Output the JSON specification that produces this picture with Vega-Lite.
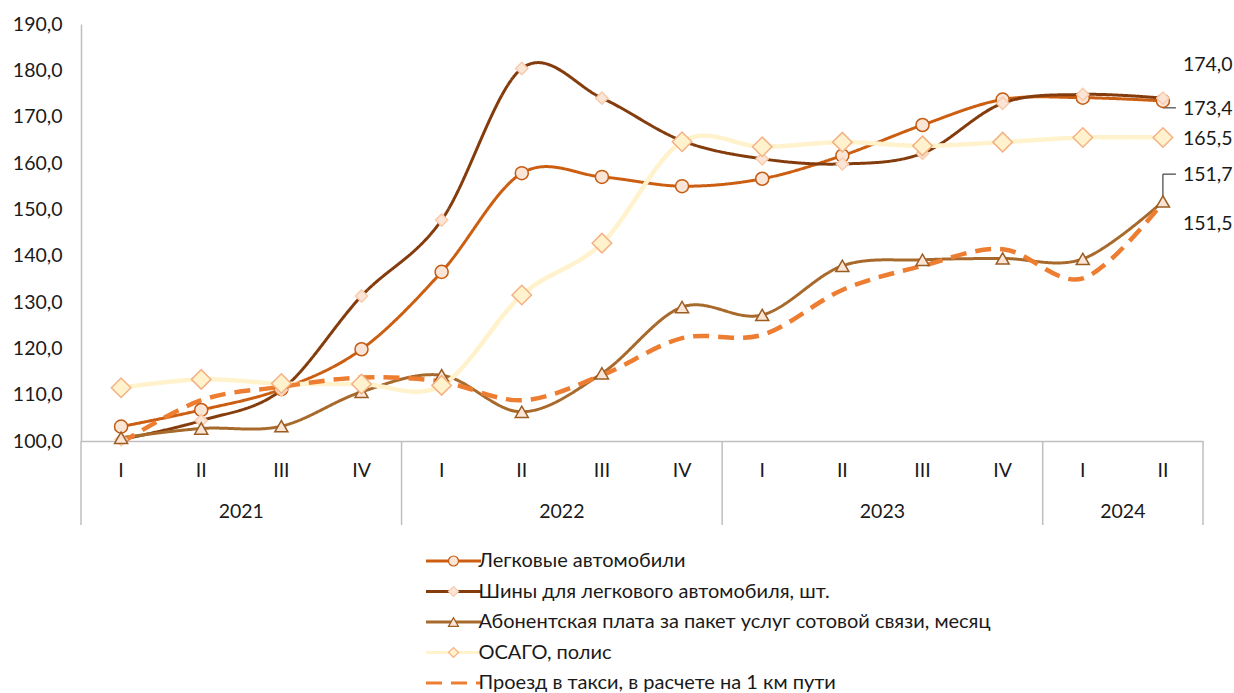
{
  "$schema": "https://vega.github.io/schema/vega-lite/v6.json",
  "width": 1122,
  "height": 417,
  "autosize": {"type": "none"},
  "padding": {"left": 81, "top": 24, "right": 31, "bottom": 252},
  "background": "white",
  "config": {
    "locale": {"number": {"decimal": ",", "thousands": " ", "grouping": [3], "currency": ["", ""]}},
    "view": {"stroke": null},
    "font": "Lato",
    "axis": {"labelFont": "Lato", "labelColor": "#1a1a1a", "labelFontSize": 19.5, "domainColor": "#BFBFBF", "domainWidth": 1.5, "ticks": false, "grid": false, "title": null},
    "legend": {"labelFont": "Lato", "labelColor": "#1a1a1a", "labelFontSize": 20, "labelLimit": 0, "title": null}
  },
  "data": {"values": [
    {"series": "Легковые автомобили", "year": 2021, "q": "I", "key": "2021-I", "value": 103.1},
    {"series": "Легковые автомобили", "year": 2021, "q": "II", "key": "2021-II", "value": 106.7},
    {"series": "Легковые автомобили", "year": 2021, "q": "III", "key": "2021-III", "value": 111.2},
    {"series": "Легковые автомобили", "year": 2021, "q": "IV", "key": "2021-IV", "value": 119.8},
    {"series": "Легковые автомобили", "year": 2022, "q": "I", "key": "2022-I", "value": 136.5},
    {"series": "Легковые автомобили", "year": 2022, "q": "II", "key": "2022-II", "value": 157.8},
    {"series": "Легковые автомобили", "year": 2022, "q": "III", "key": "2022-III", "value": 157.0},
    {"series": "Легковые автомобили", "year": 2022, "q": "IV", "key": "2022-IV", "value": 155.0},
    {"series": "Легковые автомобили", "year": 2023, "q": "I", "key": "2023-I", "value": 156.6},
    {"series": "Легковые автомобили", "year": 2023, "q": "II", "key": "2023-II", "value": 161.6},
    {"series": "Легковые автомобили", "year": 2023, "q": "III", "key": "2023-III", "value": 168.2},
    {"series": "Легковые автомобили", "year": 2023, "q": "IV", "key": "2023-IV", "value": 173.7},
    {"series": "Легковые автомобили", "year": 2024, "q": "I", "key": "2024-I", "value": 174.1},
    {"series": "Легковые автомобили", "year": 2024, "q": "II", "key": "2024-II", "value": 173.4},

    {"series": "Шины для легкового автомобиля, шт.", "year": 2021, "q": "I", "key": "2021-I", "value": 100.3},
    {"series": "Шины для легкового автомобиля, шт.", "year": 2021, "q": "II", "key": "2021-II", "value": 104.4},
    {"series": "Шины для легкового автомобиля, шт.", "year": 2021, "q": "III", "key": "2021-III", "value": 111.0},
    {"series": "Шины для легкового автомобиля, шт.", "year": 2021, "q": "IV", "key": "2021-IV", "value": 131.3},
    {"series": "Шины для легкового автомобиля, шт.", "year": 2022, "q": "I", "key": "2022-I", "value": 147.7},
    {"series": "Шины для легкового автомобиля, шт.", "year": 2022, "q": "II", "key": "2022-II", "value": 180.4},
    {"series": "Шины для легкового автомобиля, шт.", "year": 2022, "q": "III", "key": "2022-III", "value": 174.0},
    {"series": "Шины для легкового автомобиля, шт.", "year": 2022, "q": "IV", "key": "2022-IV", "value": 164.8},
    {"series": "Шины для легкового автомобиля, шт.", "year": 2023, "q": "I", "key": "2023-I", "value": 160.9},
    {"series": "Шины для легкового автомобиля, шт.", "year": 2023, "q": "II", "key": "2023-II", "value": 159.8},
    {"series": "Шины для легкового автомобиля, шт.", "year": 2023, "q": "III", "key": "2023-III", "value": 162.1},
    {"series": "Шины для легкового автомобиля, шт.", "year": 2023, "q": "IV", "key": "2023-IV", "value": 172.9},
    {"series": "Шины для легкового автомобиля, шт.", "year": 2024, "q": "I", "key": "2024-I", "value": 174.8},
    {"series": "Шины для легкового автомобиля, шт.", "year": 2024, "q": "II", "key": "2024-II", "value": 174.0},

    {"series": "Абонентская плата за пакет услуг сотовой связи, месяц", "year": 2021, "q": "I", "key": "2021-I", "value": 100.7},
    {"series": "Абонентская плата за пакет услуг сотовой связи, месяц", "year": 2021, "q": "II", "key": "2021-II", "value": 102.7},
    {"series": "Абонентская плата за пакет услуг сотовой связи, месяц", "year": 2021, "q": "III", "key": "2021-III", "value": 103.2},
    {"series": "Абонентская плата за пакет услуг сотовой связи, месяц", "year": 2021, "q": "IV", "key": "2021-IV", "value": 110.6},
    {"series": "Абонентская плата за пакет услуг сотовой связи, месяц", "year": 2022, "q": "I", "key": "2022-I", "value": 114.2},
    {"series": "Абонентская плата за пакет услуг сотовой связи, месяц", "year": 2022, "q": "II", "key": "2022-II", "value": 106.3},
    {"series": "Абонентская плата за пакет услуг сотовой связи, месяц", "year": 2022, "q": "III", "key": "2022-III", "value": 114.6},
    {"series": "Абонентская плата за пакет услуг сотовой связи, месяц", "year": 2022, "q": "IV", "key": "2022-IV", "value": 128.9},
    {"series": "Абонентская плата за пакет услуг сотовой связи, месяц", "year": 2023, "q": "I", "key": "2023-I", "value": 127.2},
    {"series": "Абонентская плата за пакет услуг сотовой связи, месяц", "year": 2023, "q": "II", "key": "2023-II", "value": 137.8},
    {"series": "Абонентская плата за пакет услуг сотовой связи, месяц", "year": 2023, "q": "III", "key": "2023-III", "value": 139.1},
    {"series": "Абонентская плата за пакет услуг сотовой связи, месяц", "year": 2023, "q": "IV", "key": "2023-IV", "value": 139.4},
    {"series": "Абонентская плата за пакет услуг сотовой связи, месяц", "year": 2024, "q": "I", "key": "2024-I", "value": 139.3},
    {"series": "Абонентская плата за пакет услуг сотовой связи, месяц", "year": 2024, "q": "II", "key": "2024-II", "value": 151.7},

    {"series": "ОСАГО, полис", "year": 2021, "q": "I", "key": "2021-I", "value": 111.5},
    {"series": "ОСАГО, полис", "year": 2021, "q": "II", "key": "2021-II", "value": 113.3},
    {"series": "ОСАГО, полис", "year": 2021, "q": "III", "key": "2021-III", "value": 112.4},
    {"series": "ОСАГО, полис", "year": 2021, "q": "IV", "key": "2021-IV", "value": 112.3},
    {"series": "ОСАГО, полис", "year": 2022, "q": "I", "key": "2022-I", "value": 112.0},
    {"series": "ОСАГО, полис", "year": 2022, "q": "II", "key": "2022-II", "value": 131.5},
    {"series": "ОСАГО, полис", "year": 2022, "q": "III", "key": "2022-III", "value": 142.7},
    {"series": "ОСАГО, полис", "year": 2022, "q": "IV", "key": "2022-IV", "value": 164.6},
    {"series": "ОСАГО, полис", "year": 2023, "q": "I", "key": "2023-I", "value": 163.5},
    {"series": "ОСАГО, полис", "year": 2023, "q": "II", "key": "2023-II", "value": 164.5},
    {"series": "ОСАГО, полис", "year": 2023, "q": "III", "key": "2023-III", "value": 163.7},
    {"series": "ОСАГО, полис", "year": 2023, "q": "IV", "key": "2023-IV", "value": 164.5},
    {"series": "ОСАГО, полис", "year": 2024, "q": "I", "key": "2024-I", "value": 165.5},
    {"series": "ОСАГО, полис", "year": 2024, "q": "II", "key": "2024-II", "value": 165.5},

    {"series": "Проезд в такси, в расчете на 1 км пути", "year": 2021, "q": "I", "key": "2021-I", "value": 99.6},
    {"series": "Проезд в такси, в расчете на 1 км пути", "year": 2021, "q": "II", "key": "2021-II", "value": 108.8},
    {"series": "Проезд в такси, в расчете на 1 км пути", "year": 2021, "q": "III", "key": "2021-III", "value": 111.7},
    {"series": "Проезд в такси, в расчете на 1 км пути", "year": 2021, "q": "IV", "key": "2021-IV", "value": 113.7},
    {"series": "Проезд в такси, в расчете на 1 км пути", "year": 2022, "q": "I", "key": "2022-I", "value": 112.8},
    {"series": "Проезд в такси, в расчете на 1 км пути", "year": 2022, "q": "II", "key": "2022-II", "value": 108.8},
    {"series": "Проезд в такси, в расчете на 1 км пути", "year": 2022, "q": "III", "key": "2022-III", "value": 114.2},
    {"series": "Проезд в такси, в расчете на 1 км пути", "year": 2022, "q": "IV", "key": "2022-IV", "value": 122.2},
    {"series": "Проезд в такси, в расчете на 1 км пути", "year": 2023, "q": "I", "key": "2023-I", "value": 122.9},
    {"series": "Проезд в такси, в расчете на 1 км пути", "year": 2023, "q": "II", "key": "2023-II", "value": 132.6},
    {"series": "Проезд в такси, в расчете на 1 км пути", "year": 2023, "q": "III", "key": "2023-III", "value": 137.8},
    {"series": "Проезд в такси, в расчете на 1 км пути", "year": 2023, "q": "IV", "key": "2023-IV", "value": 141.4},
    {"series": "Проезд в такси, в расчете на 1 км пути", "year": 2024, "q": "I", "key": "2024-I", "value": 135.1},
    {"series": "Проезд в такси, в расчете на 1 км пути", "year": 2024, "q": "II", "key": "2024-II", "value": 151.5}
  ]},
  "layer": [
    {
      "transform": [{"filter": "datum.series === 'Легковые автомобили' && datum.q === 'I'"}],
      "mark": {"type": "rule", "color": "#BFBFBF", "strokeWidth": 1.5, "y2Offset": 84},
      "encoding": {
        "x": {"field": "key", "type": "ordinal", "bandPosition": 0,
          "scale": {"type": "band", "paddingInner": 0, "paddingOuter": 0,
            "domain": ["2021-I","2021-II","2021-III","2021-IV","2022-I","2022-II","2022-III","2022-IV","2023-I","2023-II","2023-III","2023-IV","2024-I","2024-II"]},
          "axis": {"orient": "bottom", "labelAngle": 0, "labelBaseline": "middle", "labelPadding": 29, "labelExpr": "split(datum.value, '-')[1]"}},
        "y": {"datum": 100, "type": "quantitative",
          "scale": {"domain": [100, 190], "nice": false, "zero": false},
          "axis": {"values": [100,110,120,130,140,150,160,170,180,190], "format": ".1f", "labelPadding": 19}},
        "y2": {"datum": 100}
      }
    },
    {
      "transform": [{"filter": "datum.series === 'Легковые автомобили' && datum.key === '2024-II'"}],
      "mark": {"type": "rule", "color": "#BFBFBF", "strokeWidth": 1.5, "y2Offset": 84},
      "encoding": {
        "x": {"field": "key", "type": "ordinal", "bandPosition": 1},
        "y": {"datum": 100, "type": "quantitative"},
        "y2": {"datum": 100}
      }
    },
    {
      "transform": [{"filter": "datum.key === '2024-II' && datum.series === 'Абонентская плата за пакет услуг сотовой связи, месяц'"}],
      "mark": {"type": "rule", "color": "#1a1a1a", "strokeWidth": 1},
      "encoding": {
        "x": {"field": "key", "type": "ordinal", "bandPosition": 0.5},
        "y": {"field": "value", "type": "quantitative"},
        "y2": {"datum": 157.6}
      }
    },
    {
      "transform": [{"filter": "datum.key === '2024-II' && datum.series === 'Абонентская плата за пакет услуг сотовой связи, месяц'"}],
      "mark": {"type": "rule", "color": "#1a1a1a", "strokeWidth": 1, "x2Offset": 13},
      "encoding": {
        "x": {"field": "key", "type": "ordinal", "bandPosition": 0.5},
        "x2": {"field": "key", "bandPosition": 0.5},
        "y": {"datum": 157.6, "type": "quantitative"}
      }
    },
    {
      "transform": [{"filter": "datum.key === '2024-II' && datum.series === 'Легковые автомобили'"}],
      "mark": {"type": "rule", "color": "#1a1a1a", "strokeWidth": 1},
      "encoding": {
        "x": {"field": "key", "type": "ordinal", "bandPosition": 0.5},
        "y": {"field": "value", "type": "quantitative"},
        "y2": {"datum": 171.9}
      }
    },
    {
      "transform": [{"filter": "datum.key === '2024-II' && datum.series === 'Легковые автомобили'"}],
      "mark": {"type": "rule", "color": "#1a1a1a", "strokeWidth": 1, "x2Offset": 13},
      "encoding": {
        "x": {"field": "key", "type": "ordinal", "bandPosition": 0.5},
        "x2": {"field": "key", "bandPosition": 0.5},
        "y": {"datum": 171.9, "type": "quantitative"}
      }
    },
    {
      "mark": {"type": "line", "interpolate": "cardinal", "strokeCap": "butt"},
      "encoding": {
        "x": {"field": "key", "type": "ordinal", "bandPosition": 0.5},
        "y": {"field": "value", "type": "quantitative"},
        "color": {"field": "series", "type": "nominal",
          "scale": {"domain": ["Легковые автомобили", "Шины для легкового автомобиля, шт.", "Абонентская плата за пакет услуг сотовой связи, месяц", "ОСАГО, полис", "Проезд в такси, в расчете на 1 км пути"],
            "range": ["#CC5E12", "#843C0C", "#A86A2C", "#FFF2CC", "#ED7D31"]},
          "legend": {"orient": "none", "legendX": 344, "legendY": 527, "direction": "vertical", "padding": 0, "rowPadding": 10.5, "symbolType": "M-5.5,0L5.5,0", "symbolSize": 100, "symbolStrokeWidth": 3, "symbolOffset": 18.5, "labelOffset": 15}},
        "strokeDash": {"field": "series", "type": "nominal",
          "scale": {"domain": ["Легковые автомобили", "Шины для легкового автомобиля, шт.", "Абонентская плата за пакет услуг сотовой связи, месяц", "ОСАГО, полис", "Проезд в такси, в расчете на 1 км пути"],
            "range": [[1, 0], [1, 0], [1, 0], [1, 0], [16, 9]]},
          "legend": {"orient": "none", "legendX": 344, "legendY": 527, "direction": "vertical", "padding": 0, "rowPadding": 10.5, "symbolType": "M-5.5,0L5.5,0", "symbolSize": 100, "symbolStrokeWidth": 3, "symbolOffset": 18.5, "labelOffset": 15}},
        "strokeWidth": {"condition": [
          {"test": "datum.series === 'ОСАГО, полис'", "value": 4.5},
          {"test": "datum.series === 'Проезд в такси, в расчете на 1 км пути'", "value": 4.5}
        ], "value": 3}
      }
    },
    {
      "mark": {"type": "point", "filled": true, "strokeWidth": 1.5, "opacity": 1},
      "encoding": {
        "x": {"field": "key", "type": "ordinal", "bandPosition": 0.5},
        "y": {"field": "value", "type": "quantitative"},
        "shape": {"field": "series", "type": "nominal",
          "sort": ["Легковые автомобили", "Шины для легкового автомобиля, шт.", "Абонентская плата за пакет услуг сотовой связи, месяц", "ОСАГО, полис", "Проезд в такси, в расчете на 1 км пути"],
          "scale": {"range": ["circle", "diamond", "triangle-up", "diamond", "circle"]},
          "legend": {"orient": "none", "legendX": 344, "legendY": 527, "direction": "vertical", "padding": 0, "rowPadding": 10.5, "symbolSize": 100, "symbolStrokeWidth": 1.2, "symbolOffset": 18.5, "labelOffset": 15, "labelOpacity": 0,
            "symbolFillColor": {"expr": "scale('fill', datum.value)"},
            "symbolStrokeColor": {"expr": "scale('stroke', datum.value)"},
            "symbolOpacity": 1}},
        "fill": {"field": "series", "type": "nominal",
          "sort": ["Легковые автомобили", "Шины для легкового автомобиля, шт.", "Абонентская плата за пакет услуг сотовой связи, месяц", "ОСАГО, полис", "Проезд в такси, в расчете на 1 км пути"],
          "scale": {"range": ["#FBE5D6", "#FBE5D6", "#FBE5D6", "#FFF2CC", "transparent"]},
          "legend": null},
        "stroke": {"field": "series", "type": "nominal",
          "sort": ["Легковые автомобили", "Шины для легкового автомобиля, шт.", "Абонентская плата за пакет услуг сотовой связи, месяц", "ОСАГО, полис", "Проезд в такси, в расчете на 1 км пути"],
          "scale": {"range": ["#C55A11", "#F8CBAD", "#9C5D23", "#F4B183", "transparent"]},
          "legend": null},
        "size": {"condition": [
          {"test": "datum.series === 'ОСАГО, полис'", "value": 380},
          {"test": "datum.series === 'Шины для легкового автомобиля, шт.'", "value": 150},
          {"test": "datum.series === 'Проезд в такси, в расчете на 1 км пути'", "value": 0}
        ], "value": 170}
      }
    },
    {
      "transform": [{"filter": "datum.key === '2024-II' && datum.series === 'Шины для легкового автомобиля, шт.'"}],
      "mark": {"type": "text", "align": "left", "baseline": "middle", "dx": 20, "dy": -33, "fontSize": 19.5, "font": "Lato", "color": "#1a1a1a"},
      "encoding": {"x": {"field": "key", "type": "ordinal", "bandPosition": 0.5}, "y": {"field": "value", "type": "quantitative"}, "text": {"field": "value", "type": "quantitative", "format": ".1f"}}
    },
    {
      "transform": [{"filter": "datum.key === '2024-II' && datum.series === 'Легковые автомобили'"}],
      "mark": {"type": "text", "align": "left", "baseline": "middle", "dx": 20, "dy": 8.5, "fontSize": 19.5, "font": "Lato", "color": "#1a1a1a"},
      "encoding": {"x": {"field": "key", "type": "ordinal", "bandPosition": 0.5}, "y": {"field": "value", "type": "quantitative"}, "text": {"field": "value", "type": "quantitative", "format": ".1f"}}
    },
    {
      "transform": [{"filter": "datum.key === '2024-II' && datum.series === 'ОСАГО, полис'"}],
      "mark": {"type": "text", "align": "left", "baseline": "middle", "dx": 20, "dy": 1, "fontSize": 19.5, "font": "Lato", "color": "#1a1a1a"},
      "encoding": {"x": {"field": "key", "type": "ordinal", "bandPosition": 0.5}, "y": {"field": "value", "type": "quantitative"}, "text": {"field": "value", "type": "quantitative", "format": ".1f"}}
    },
    {
      "transform": [{"filter": "datum.key === '2024-II' && datum.series === 'Абонентская плата за пакет услуг сотовой связи, месяц'"}],
      "mark": {"type": "text", "align": "left", "baseline": "middle", "dx": 20, "dy": -26.5, "fontSize": 19.5, "font": "Lato", "color": "#1a1a1a"},
      "encoding": {"x": {"field": "key", "type": "ordinal", "bandPosition": 0.5}, "y": {"field": "value", "type": "quantitative"}, "text": {"field": "value", "type": "quantitative", "format": ".1f"}}
    },
    {
      "transform": [{"filter": "datum.key === '2024-II' && datum.series === 'Проезд в такси, в расчете на 1 км пути'"}],
      "mark": {"type": "text", "align": "left", "baseline": "middle", "dx": 20, "dy": 22, "fontSize": 19.5, "font": "Lato", "color": "#1a1a1a"},
      "encoding": {"x": {"field": "key", "type": "ordinal", "bandPosition": 0.5}, "y": {"field": "value", "type": "quantitative"}, "text": {"field": "value", "type": "quantitative", "format": ".1f"}}
    },
    {
      "transform": [{"filter": "datum.series === 'Легковые автомобили' && ((datum.q === 'II' && datum.year !== 2024) || (datum.q === 'I' && datum.year === 2024))"}],
      "mark": {"type": "text", "align": "center", "baseline": "middle", "dy": 71, "fontSize": 19.5, "font": "Lato", "color": "#1a1a1a"},
      "encoding": {"x": {"field": "key", "type": "ordinal", "bandPosition": 1}, "y": {"datum": 100, "type": "quantitative"}, "text": {"field": "year", "type": "nominal"}}
    }
  ]
}
